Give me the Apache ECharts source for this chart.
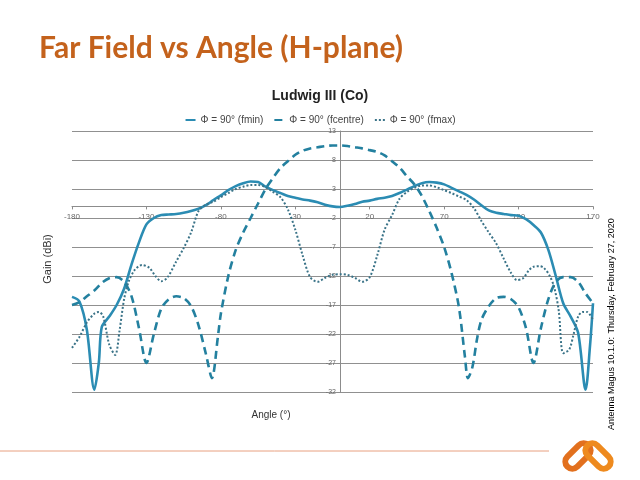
<!DOCTYPE html>
<html>
<head>
<meta charset="utf-8">
<script src="https://cdn.jsdelivr.net/npm/echarts@6/dist/echarts.min.js"></script>
<style>
html,body{margin:0;padding:0;background:#fff;}
#chart{width:640px;height:480px;}
</style>
</head>
<body>
<div id="chart"></div>
<script>
// ---- data ----
var chartTitle = 'Ludwig III (Co)';
var seriesNames = ['\u03A6 = 90\u00B0 (fmin)', '\u03A6 = 90\u00B0 (fcentre)', '\u03A6 = 90\u00B0 (fmax)'];

var fminAngles = [-180,-175,-170,-165,-162,-160,-155,-150,-145,-140,-135,-130,-125,-120,-115,-110,-105,-100,-95,-90,-85,-80,-75,-70,-65,-60,-55,-50,-45,-40,-35,-30,-25,-20,-15,-10,-5,0,5,10,15,20,25,30,35,40,45,50,55,60,65,70,75,80,85,90,95,100,105,110,115,120,125,130,135,140,145,150,155,160,165,168,170];
var fminGain = [-15.6,-16.4,-21.3,-31.6,-27,-20.8,-19,-17,-14.2,-10,-6.2,-3.1,-2.0,-1.5,-1.4,-1.3,-1.1,-0.8,-0.4,0.2,1.1,1.9,2.8,3.5,4.0,4.3,4.2,3.4,2.8,2.3,1.8,1.5,1.2,1.0,0.7,0.3,0.0,-0.1,0.1,0.4,0.8,1.0,1.3,1.5,1.8,2.3,2.9,3.5,4.0,4.2,4.1,3.8,3.2,2.6,2.0,1.2,0.2,-0.7,-1.1,-1.3,-1.5,-1.6,-2.2,-3.2,-4.5,-7.5,-12,-16.7,-19,-21.8,-31.6,-24,-16.7];

var fcentreAngles = [-180,-175,-170,-165,-160,-155,-150,-145,-140,-135,-130,-125,-120,-115,-110,-105,-100,-95,-90,-86,-82,-80,-75,-70,-65,-60,-55,-50,-45,-40,-35,-30,-25,-20,-15,-10,-5,0,5,10,15,20,25,30,35,40,45,50,55,60,65,70,75,80,84,86,89,92,95,100,105,110,115,120,125,130,135,140,145,150,155,160,165,170];
var fcentreGain = [-17,-16.5,-15.5,-14.5,-13.2,-12.4,-12.2,-13.0,-15.5,-21,-27,-22,-17.6,-16.0,-15.5,-15.8,-17.2,-20.5,-25.5,-29.6,-22.5,-18.5,-12,-7.5,-4.5,-2,0.5,3,4.9,6.6,7.8,8.9,9.6,10.0,10.2,10.4,10.5,10.5,10.4,10.2,10.0,9.7,9.4,8.8,7.8,6.7,5.2,3.8,1.8,-0.8,-3.7,-7,-11.5,-17.5,-26,-29.6,-27.7,-23,-19.6,-17.2,-15.8,-15.6,-16.0,-17.4,-21,-27,-21,-16,-13,-12.2,-12.2,-13,-15,-16.7];

var fmaxAngles = [-180,-175,-170,-165,-162,-159,-155,-151,-148,-145,-142,-138,-133,-128,-124,-120,-116,-110,-105,-100,-95,-90,-85,-80,-75,-70,-65,-60,-55,-50,-45,-40,-35,-30,-25,-20,-15,-10,-5,0,5,10,15,20,25,30,35,40,45,50,55,60,65,70,75,80,85,90,95,100,105,110,115,119,123,127,130,134,137,141,144,147,150,154,157,160,163,166,170];
var fmaxGain = [-24.4,-22.5,-20,-18.5,-18.2,-19,-23.8,-25.6,-21.3,-16,-13,-11,-10.1,-10.6,-12,-12.9,-12.3,-9.5,-7.2,-4.5,-0.8,0.3,0.8,1.6,2.3,3.0,3.4,3.7,3.7,3.3,2.5,1.6,-0.5,-4,-8.5,-12.2,-13,-12.3,-11.8,-11.7,-11.8,-12.3,-13,-12.2,-8.5,-4,-1.5,1.3,2.5,3.2,3.6,3.6,3.3,2.8,2.3,1.7,1.1,-0.3,-2.5,-4.5,-6.4,-9,-11.5,-12.7,-12.4,-11,-10.4,-10.3,-10.6,-12,-14,-18,-25.3,-24.7,-22,-19,-18.2,-18.2,-19.6];

var xTickMin = -180, xTickMax = 170, xTickStep = 50;
var yTickMin = -32, yTickMax = 13, yTickStep = 5;

function pairs(xs, ys){ var out=[]; for (var i=0;i<xs.length;i++) out.push([xs[i], ys[i]]); return out; }

// grid geometry
var gridLeft = 72, gridRight = 47, gridTop = 131, gridBottom = 88;
var gridW = 640 - gridLeft - gridRight, gridH = 480 - gridTop - gridBottom;
// axes cross at zero: shift axis lines (with their labels) onto the zero of the other axis
var xAxisOffset = -gridH * (0 - yTickMin) / (yTickMax - yTickMin);
var yAxisOffset = -gridW * (0 - xTickMin) / (xTickMax - xTickMin);

var chart = echarts.init(document.getElementById('chart'), null, {renderer:'canvas'});
var labelFont = 'Liberation Sans';
var option = {
  backgroundColor: '#ffffff',
  animation: false,
  title: {
    text: chartTitle,
    left: 'center',
    top: 84,
    textStyle: {fontFamily: labelFont, fontSize: 14, fontWeight: 'bold', color: '#222'}
  },
  legend: {
    top: 110,
    left: 'center',
    itemWidth: 10,
    itemHeight: 6,
    itemGap: 10,
    itemStyle: {opacity: 0},
    textStyle: {fontFamily: labelFont, fontSize: 10, color: '#444'},
    data: seriesNames
  },
  grid: {left: gridLeft, right: gridRight, top: gridTop, bottom: gridBottom, containLabel: false},
  xAxis: {
    type: 'value', min: xTickMin, max: xTickMax, interval: xTickStep,
    position: 'bottom', offset: xAxisOffset,
    axisLine: {show: true, onZero: false, lineStyle: {color: '#8c8c8c', width: 1}},
    axisTick: {show: true, length: 3, lineStyle: {color: '#8c8c8c'}},
    axisLabel: {fontFamily: labelFont, fontSize: 8, color: '#666', margin: 6},
    splitLine: {show: false}
  },
  yAxis: {
    type: 'value', min: yTickMin, max: yTickMax, interval: yTickStep,
    position: 'left', offset: yAxisOffset,
    axisLine: {show: true, onZero: false, lineStyle: {color: '#8c8c8c', width: 1}},
    axisTick: {show: true, length: 3, lineStyle: {color: '#8c8c8c'}},
    axisLabel: {fontFamily: labelFont, fontSize: 7, color: '#666', margin: 4},
    splitLine: {show: true, lineStyle: {color: '#909090', width: 1}}
  },
  series: [
    {name: seriesNames[0], type: 'line', data: pairs(fminAngles, fminGain), symbol: 'none', smooth: 0.3,
     lineStyle: {color: '#2B8CB3', width: 2.6, type: 'solid'}, itemStyle: {color: '#2B8CB3'}},
    {name: seriesNames[1], type: 'line', data: pairs(fcentreAngles, fcentreGain), symbol: 'none', smooth: 0.3,
     lineStyle: {color: '#23809F', width: 2.6, type: [8, 5]}, itemStyle: {color: '#23809F'}},
    {name: seriesNames[2], type: 'line', data: pairs(fmaxAngles, fmaxGain), symbol: 'none', smooth: 0.3,
     lineStyle: {color: '#3A7388', width: 2, type: [2, 2]}, itemStyle: {color: '#3A7388'}}
  ],
  graphic: [
    {type: 'text', left: 39, top: 33, style: {text: 'Far Field vs Angle (H-plane)', font: 'bold 30px Lato', fill: '#C4621C'}},
    {type: 'text', x: 48, y: 259, rotation: Math.PI/2,
     style: {text: 'Gain (dBi)', font: '11px "Liberation Sans"', fill: '#333', textAlign: 'center', textVerticalAlign: 'middle'}},
    {type: 'text', x: 271, y: 415,
     style: {text: 'Angle (\u00B0)', font: '10px "Liberation Sans"', fill: '#333', textAlign: 'center', textVerticalAlign: 'middle'}},
    {type: 'text', x: 612, y: 430, rotation: Math.PI/2,
     style: {text: '{o|Antenna Magus 10.1.0:} {g|Thursday, February 27, 2020}', textAlign: 'left', textVerticalAlign: 'middle',
       rich: {o: {fontFamily: labelFont, fontSize: 9, color: '#E49468'}, g: {fontFamily: labelFont, fontSize: 9, color: '#666'}}}},
    {type: 'line', shape: {x1: 0, y1: 451, x2: 549, y2: 451}, style: {stroke: '#E8A080', lineWidth: 1}},
    {type: 'rect', x: 578, y: 456, rotation: Math.PI/4, shape: {x: -15, y: -7, width: 30, height: 14, r: 7},
     style: {fill: 'none', stroke: '#E2701E', lineWidth: 6}},
    {type: 'rect', x: 598, y: 456, rotation: -Math.PI/4, shape: {x: -15, y: -7, width: 30, height: 14, r: 7},
     style: {fill: 'none', stroke: '#EE8A1E', lineWidth: 6}}
  ]
};
chart.setOption(option);
</script>
</body>
</html>
